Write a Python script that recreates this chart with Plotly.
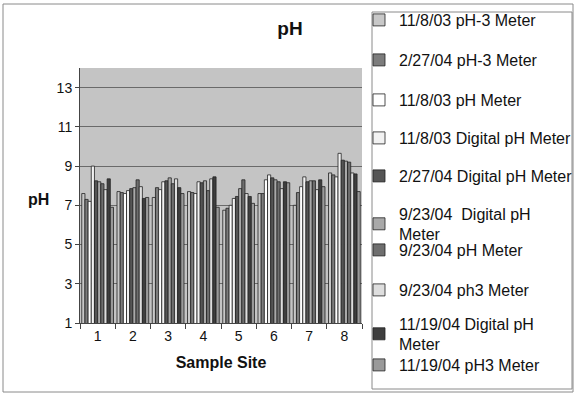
import plotly.graph_objects as go

sites = ["1", "2", "3", "4", "5", "6", "7", "8"]
series_names = [
    "11/8/03 pH-3 Meter",
    "2/27/04 pH-3 Meter",
    "11/8/03 pH Meter",
    "11/8/03 Digital pH Meter",
    "2/27/04 Digital pH Meter",
    "9/23/04  Digital pH<br>Meter",
    "9/23/04 pH Meter",
    "9/23/04 ph3 Meter",
    "11/19/04 Digital pH<br>Meter",
    "11/19/04 pH3 Meter",
]
s1 = [7.6, 7.7, 7.4, 7.7, 6.75, 7.6, 7.0, 8.65]
s2 = [7.3, 7.65, 7.9, 7.65, 6.85, 7.6, 7.65, 8.55]
s3 = [7.2, 7.6, 7.8, 7.6, 7.0, 8.3, 7.95, 8.45]
s4 = [9.0, 7.75, 8.2, 8.2, 7.35, 8.55, 8.45, 9.65]
s5 = [8.25, 7.85, 8.25, 8.15, 7.45, 8.4, 8.2, 9.3]
s6 = [8.2, 7.9, 8.4, 8.25, 7.85, 8.3, 8.25, 9.25]
s7 = [8.1, 8.3, 8.1, 7.75, 8.3, 8.2, 8.25, 9.2]
s8 = [7.8, 7.95, 8.35, 8.35, 7.6, 7.85, 7.8, 8.65]
s9 = [8.35, 7.35, 7.9, 8.45, 7.45, 8.2, 8.3, 8.6]
s10 = [6.9, 7.4, 7.6, 6.9, 7.1, 8.15, 7.95, 7.7]
series_values = [s1, s2, s3, s4, s5, s6, s7, s8, s9, s10]
y_ticks = [1, 3, 5, 7, 9, 11, 13]

colors = ["#c8c8c8", "#7c7c7c", "#ffffff", "#f2f2f2", "#555555",
          "#a9a9a9", "#6e6e6e", "#dedede", "#3e3e3e", "#9a9a9a"]
# legend item vertical centres (px from top)
legend_centres = [20, 60, 100, 138, 176, 224, 250, 290, 334, 365]

W, H = 576, 396
L, R, T, B = 80, 214, 68, 73
PW, PH = W - L - R, H - T - B

fig = go.Figure()
for i, (name, vals) in enumerate(zip(series_names, series_values)):
    lname = "legend" if i == 0 else f"legend{i+1}"
    fig.add_trace(go.Bar(
        x=sites, y=vals, name=name,
        marker=dict(color=colors[i], line=dict(color="#222222", width=0.8)),
        legend=lname,
    ))

font = dict(family="Liberation Sans, Arial, sans-serif", color="#111111")
layout_legends = {}
for i, c in enumerate(legend_centres):
    lname = "legend" if i == 0 else f"legend{i+1}"
    layout_legends[lname] = dict(
        xref="container", yref="container",
        x=359 / W, y=1 - c / H, xanchor="left", yanchor="middle",
        bgcolor="rgba(0,0,0,0)", borderwidth=0,
        font=dict(size=16, **font), itemwidth=30,
    )

def px(xp):
    return (xp - L) / PW

def py(yp):
    return (T + PH - yp) / PH

def box(x0, y0, x1, y1):
    ln = dict(color="#8a8a8a", width=1)
    return [
        dict(type="line", xref="paper", yref="paper", x0=px(x0), x1=px(x1), y0=py(y0), y1=py(y0), line=ln),
        dict(type="line", xref="paper", yref="paper", x0=px(x0), x1=px(x1), y0=py(y1), y1=py(y1), line=ln),
        dict(type="line", xref="paper", yref="paper", x0=px(x0), x1=px(x0), y0=py(y0), y1=py(y1), line=ln),
        dict(type="line", xref="paper", yref="paper", x0=px(x1), x1=px(x1), y0=py(y0), y1=py(y1), line=ln),
    ]

fig.update_layout(
    width=W, height=H,
    margin=dict(l=L, r=R, t=T, b=B, autoexpand=False),
    paper_bgcolor="white",
    plot_bgcolor="#c4c4c4",
    barmode="group", bargap=0.1, bargroupgap=0.0,
    showlegend=True,
    title=dict(text="<b>pH</b>", x=290 / W, y=1 - 28 / H, xanchor="center",
               yanchor="middle", xref="container", yref="container",
               font=dict(size=19, **font)),
    xaxis=dict(
        showline=True, linecolor="#444444", linewidth=1,
        ticks="outside", tickson="boundaries", ticklen=5, tickcolor="#444444",
        tickfont=dict(size=14, **font),
        title=dict(text="<b>Sample Site</b>", font=dict(size=16, **font), standoff=14),
        showgrid=False,
    ),
    yaxis=dict(
        range=[1, 14], tickvals=y_ticks, ticktext=[str(v) for v in y_ticks],
        showline=True, linecolor="#444444", linewidth=1,
        ticks="outside", ticklen=4, tickcolor="#444444",
        tickfont=dict(size=14, **font),
        showgrid=True, gridcolor="#6a6a6a", gridwidth=1,
        zeroline=False,
    ),
    annotations=[dict(text="<b>pH</b>", xref="paper", yref="paper",
                      x=px(38), y=py(200), xanchor="center", yanchor="middle",
                      showarrow=False, font=dict(size=16, **font))],
    shapes=box(3, 4, 573, 392) + box(372, 12, 572, 389),
    **layout_legends,
)

fig.write_html("out.html",
               config={"displayModeBar": False},
               post_script="document.body.style.margin='0';document.body.style.overflow='hidden';")
